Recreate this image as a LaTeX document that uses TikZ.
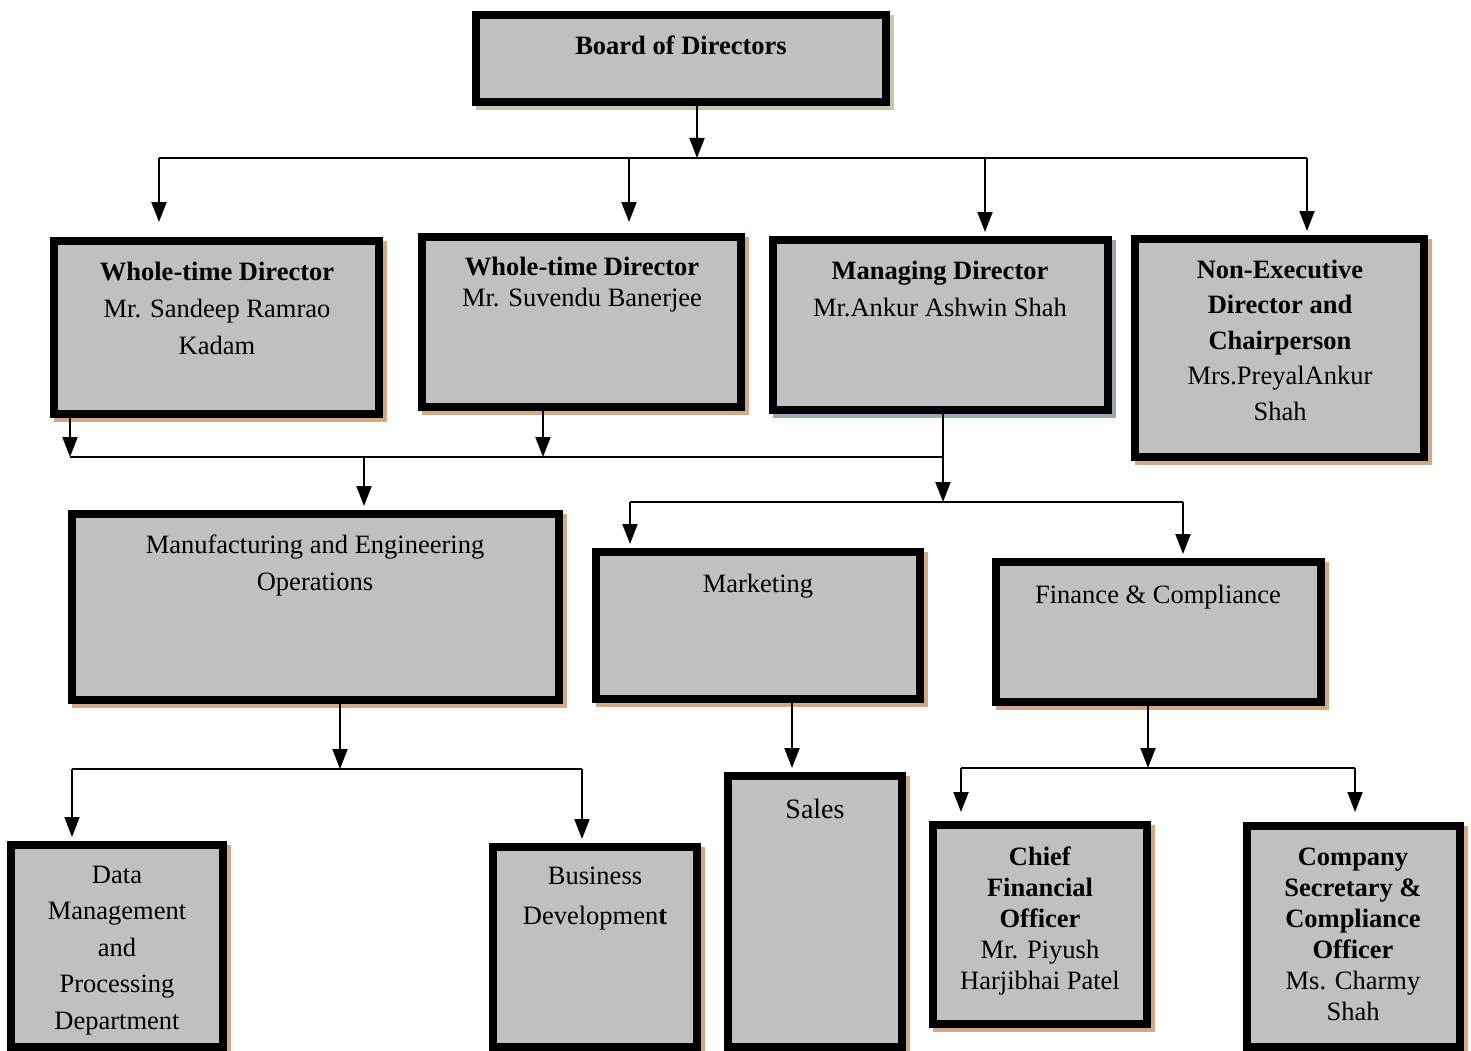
\documentclass[tikz,border=0pt]{standalone}
\usepackage{fontspec}
\setmainfont{Liberation Serif}
\usetikzlibrary{arrows.meta}
\definecolor{boxgray}{HTML}{C0C0C0}
\definecolor{shtan}{HTML}{D2A886}
\definecolor{shgreen}{HTML}{C3C8AE}
\definecolor{shblue}{HTML}{9AA7B9}
\begin{document}
\begin{tikzpicture}[x=1pt,y=-1pt,
  orgbox/.style={draw=black, fill=boxgray, line width=8pt, inner sep=0pt, rectangle},
  shadowed/.style={preaction={draw=#1, fill=#1, line width=8pt, transform canvas={shift={(4pt,-4pt)}}}},
  lbl/.style={anchor=north, inner sep=0pt, align=center, text=black},
  sp37/.style={font=\fontsize{26.5}{37}\selectfont},
  sp31/.style={font=\fontsize{26.5}{31}\selectfont},
  hline/.style={line width=1.5pt},
  arr/.style={line width=2pt, -{Triangle[width=15pt,length=20pt]}}
]
\useasboundingbox[fill=white] (0,0) rectangle (1471,1051);

% boxes
\node[orgbox, shadowed=shgreen, minimum width=410pt, minimum height=87pt] (board) at (681,58.5) {};
\node[orgbox, shadowed=shtan, minimum width=325pt, minimum height=173pt] (wtd1) at (216.5,327.5) {};
\node[orgbox, shadowed=shtan, minimum width=319pt, minimum height=170pt] (wtd2) at (581.5,322) {};
\node[orgbox, shadowed=shblue, minimum width=335pt, minimum height=170pt] (md) at (940.5,325) {};
\node[orgbox, shadowed=shtan, minimum width=289pt, minimum height=218pt] (ned) at (1279.5,348) {};
\node[orgbox, shadowed=shtan, minimum width=487pt, minimum height=186pt] (mfg) at (315.5,607) {};
\node[orgbox, shadowed=shtan, minimum width=324pt, minimum height=147pt] (mkt) at (758,625.5) {};
\node[orgbox, shadowed=shtan, minimum width=325pt, minimum height=140pt] (fin) at (1158.5,632) {};
\node[orgbox, shadowed=shtan, minimum width=212pt, minimum height=202pt] (data) at (117,946) {};
\node[orgbox, shadowed=shtan, minimum width=204pt, minimum height=200pt] (bus) at (595,947) {};
\node[orgbox, shadowed=shtan, minimum width=174pt, minimum height=271pt] (sales) at (815,911.5) {};
\node[orgbox, shadowed=shtan, minimum width=214pt, minimum height=199pt] (cfo) at (1040,924.5) {};
\node[orgbox, shadowed=shtan, minimum width=213pt, minimum height=221pt] (cs) at (1353.5,936.5) {};

% texts
\node[lbl, sp37] (tboard) at (681,35.5) {\textbf{Board of Directors}};
\node[lbl, sp37] (twtd1) at (217,261.5) {\textbf{Whole-time Director}\\Mr. Sandeep Ramrao\\Kadam};
\node[lbl, sp31] (twtd2) at (582,256.5) {\textbf{Whole-time Director}\\Mr. Suvendu Banerjee};
\node[lbl, sp37] (tmd) at (940,260.5) {\textbf{Managing Director}\\Mr.Ankur Ashwin Shah};
\node[lbl, font=\fontsize{26.5}{35.5}\selectfont] (tned) at (1280,259.5) {\textbf{Non-Executive}\\\textbf{Director and}\\\textbf{Chairperson}\\Mrs.PreyalAnkur\\Shah};
\node[lbl, sp37] (tmfg) at (315,534.5) {Manufacturing and Engineering\\Operations};
\node[lbl, sp37] (tmkt) at (758,573.5) {Marketing};
\node[lbl, sp37] (tfin) at (1158,584.5) {Finance \& Compliance};
\node[lbl, font=\fontsize{26.5}{36.5}\selectfont] (tdata) at (117,865.5) {Data\\Management\\and\\Processing\\Department};
\node[lbl, font=\fontsize{26.5}{40}\selectfont] (tbus) at (595,866.5) {Business\\Developmen\textbf{t}};
\node[lbl, font=\fontsize{28}{34}\selectfont] (tsales) at (815,799) {Sales};
\node[lbl, sp31] (tcfo) at (1040,846.5) {\textbf{Chief}\\\textbf{Financial}\\\textbf{Officer}\\Mr. Piyush\\Harjibhai Patel};
\node[lbl, sp31] (tcs) at (1353,847.5) {\textbf{Company}\\\textbf{Secretary \&}\\\textbf{Compliance}\\\textbf{Officer}\\Ms. Charmy\\Shah};

% junction coordinates
\coordinate (h1L) at (159,158);
\coordinate (h1M) at (697,158);
\coordinate (h1B) at (629,158);
\coordinate (h1C) at (985,158);
\coordinate (h1R) at (1307,158);
\coordinate (h2L) at (70,457);
\coordinate (h2B) at (543,457);
\coordinate (h2M) at (364,457);
\coordinate (h2R) at (943,457);
\coordinate (h3M) at (943,502);
\coordinate (h3L) at (630,502);
\coordinate (h3R) at (1183,502);
\coordinate (h4M) at (340,769);
\coordinate (h4L) at (72,769);
\coordinate (h4R) at (582,769);
\coordinate (h5M) at (1148,768);
\coordinate (h5L) at (961,768);
\coordinate (h5R) at (1355,768);
\coordinate (sx) at (792,0);

% level 1
\draw[hline] (h1L) -- (h1R);
\draw[arr] (board.south -| h1M) -- (h1M);
\draw[arr, shorten >=15pt] (h1L) -- (wtd1.north -| h1L);
\draw[arr, shorten >=11pt] (h1B) -- (wtd2.north -| h1B);
\draw[arr, shorten >=4pt] (h1C) -- (md.north -| h1C);
\draw[arr, shorten >=4pt] (h1R) -- (ned.north -| h1R);

% level 2
\draw[hline] (h2L) -- (h2R);
\draw[arr] (wtd1.south -| h2L) -- (h2L);
\draw[arr] (wtd2.south -| h2B) -- (h2B);
\draw[arr] (md.south -| h2R) -- (h3M);
\draw[arr, shorten >=4pt] (h2M) -- (mfg.north -| h2M);

% level 3
\draw[hline] (h3L) -- (h3R);
\draw[arr, shorten >=4pt] (h3L) -- (mkt.north -| h3L);
\draw[arr, shorten >=4pt] (h3R) -- (fin.north -| h3R);

% level 4
\draw[arr] (mfg.south -| h4M) -- (h4M);
\draw[hline] (h4L) -- (h4R);
\draw[arr, shorten >=4pt] (h4L) -- (data.north -| h4L);
\draw[arr, shorten >=4pt] (h4R) -- (bus.north -| h4R);
\draw[arr, shorten >=4pt] (mkt.south -| sx) -- (sales.north -| sx);

% level 5
\draw[arr] (fin.south -| h5M) -- (h5M);
\draw[hline] (h5L) -- (h5R);
\draw[arr, shorten >=9pt] (h5L) -- (cfo.north -| h5L);
\draw[arr, shorten >=10pt] (h5R) -- (cs.north -| h5R);
\end{tikzpicture}
\end{document}
